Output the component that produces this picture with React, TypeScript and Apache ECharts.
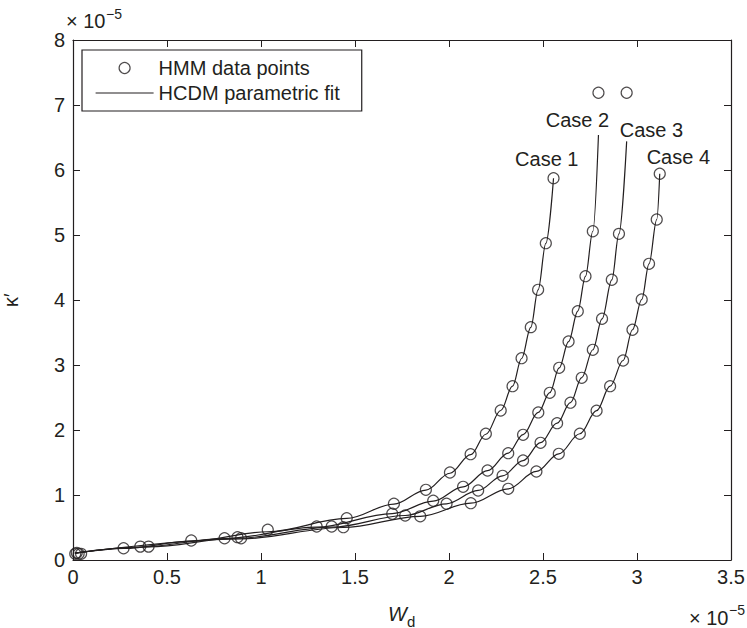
import React, { useEffect, useRef } from 'react';
import * as echarts from 'echarts';

const INK = '#231f20';
const FONT = '"Liberation Sans", Arial, Helvetica, sans-serif';

// Axis ranges (values in units of 10^-5)
const X_MIN = 0;
const X_MAX = 3.5;
const X_STEP = 0.5;
const Y_MIN = 0;
const Y_MAX = 8;
const Y_STEP = 1;

const legendNames = ['HMM data points', 'HCDM parametric fit'];
const caseNames = ['Case 1', 'Case 2', 'Case 3', 'Case 4'];

// HMM data points [W_d, kappa'] (×10^-5)
const hmmCase1 = [
  [0.012, 0.095], [0.269, 0.181], [0.629, 0.300], [1.036, 0.465], [1.456, 0.643],
  [1.707, 0.865], [1.877, 1.080], [2.005, 1.346], [2.115, 1.628], [2.196, 1.942],
  [2.275, 2.300], [2.338, 2.674], [2.386, 3.105], [2.435, 3.582], [2.474, 4.157],
  [2.515, 4.874], [2.556, 5.874],
];
const hmmCase2 = [
  [0.030, 0.095], [0.358, 0.206], [0.806, 0.335], [1.296, 0.515], [1.698, 0.711],
  [1.916, 0.911], [2.075, 1.126], [2.205, 1.377], [2.315, 1.643], [2.394, 1.926],
  [2.475, 2.270], [2.536, 2.572], [2.586, 2.957], [2.636, 3.362], [2.685, 3.828],
  [2.726, 4.366], [2.765, 5.058], [2.795, 7.188],
];
const hmmCase3 = [
  [0.043, 0.095], [0.402, 0.206], [0.875, 0.351], [1.376, 0.515], [1.767, 0.685],
  [1.987, 0.865], [2.155, 1.069], [2.285, 1.295], [2.394, 1.531], [2.487, 1.803],
  [2.575, 2.105], [2.646, 2.420], [2.706, 2.803], [2.765, 3.234], [2.814, 3.711],
  [2.866, 4.311], [2.904, 5.018], [2.945, 7.188],
];
const hmmCase4 = [
  [0.020, 0.110], [0.894, 0.335], [1.438, 0.505], [1.847, 0.672], [2.116, 0.874],
  [2.315, 1.095], [2.465, 1.362], [2.584, 1.634], [2.696, 1.942], [2.785, 2.297],
  [2.857, 2.674], [2.926, 3.069], [2.976, 3.542], [3.025, 4.008], [3.064, 4.557],
  [3.105, 5.238], [3.121, 5.942],
];

// HCDM parametric fit curves
const fitCase1 = [
  [0.010, 0.105], [0.269, 0.178], [0.629, 0.290], [1.036, 0.435], [1.456, 0.640],
  [1.707, 0.860], [1.877, 1.075], [2.005, 1.335], [2.115, 1.620], [2.196, 1.935],
  [2.275, 2.300], [2.338, 2.675], [2.386, 3.100], [2.435, 3.580], [2.474, 4.155],
  [2.515, 4.870], [2.556, 5.874],
];
const fitCase2 = [
  [0.010, 0.105], [0.358, 0.200], [0.806, 0.330], [1.296, 0.505], [1.698, 0.715],
  [1.916, 0.905], [2.075, 1.125], [2.205, 1.375], [2.315, 1.645], [2.394, 1.930],
  [2.475, 2.270], [2.536, 2.575], [2.586, 2.955], [2.636, 3.360], [2.685, 3.830],
  [2.726, 4.365], [2.765, 5.058], [2.795, 6.540],
];
const fitCase3 = [
  [0.010, 0.105], [0.402, 0.200], [0.875, 0.335], [1.376, 0.505], [1.767, 0.685],
  [1.987, 0.865], [2.155, 1.070], [2.285, 1.295], [2.394, 1.530], [2.487, 1.805],
  [2.575, 2.105], [2.646, 2.420], [2.706, 2.805], [2.765, 3.235], [2.814, 3.710],
  [2.866, 4.310], [2.904, 5.018], [2.945, 6.440],
];
const fitCase4 = [
  [0.010, 0.105], [0.894, 0.325], [1.438, 0.500], [1.847, 0.672], [2.116, 0.874],
  [2.315, 1.095], [2.465, 1.362], [2.584, 1.634], [2.696, 1.942], [2.785, 2.297],
  [2.857, 2.674], [2.926, 3.069], [2.976, 3.542], [3.025, 4.008], [3.064, 4.557],
  [3.105, 5.238], [3.121, 5.942],
];

// Case label anchor positions (data coordinates, ×10^-5)
const caseLabelX = [2.520, 2.683, 3.077, 3.220];
const caseLabelY = [6.172, 6.762, 6.618, 6.197];

const hmmAll = [hmmCase1, hmmCase2, hmmCase3, hmmCase4];
const fitAll = [fitCase1, fitCase2, fitCase3, fitCase4];

export default function App() {
  const ref = useRef<HTMLDivElement>(null);

  useEffect(() => {
    if (!ref.current) return;
    const chart = echarts.init(ref.current, undefined, { renderer: 'svg' });

    const axisCommon = {
      axisLine: { show: true, onZero: false, lineStyle: { color: INK, width: 1.2 } },
      axisTick: { show: true, inside: true, length: 7, lineStyle: { color: INK, width: 1 } },
      splitLine: { show: false },
    };

    const series: any[] = [];
    fitAll.forEach((fit) => {
      series.push({
        type: 'line',
        name: legendNames[1],
        data: fit,
        symbol: 'none',
        smooth: 0.35,
        smoothMonotone: 'x',
        lineStyle: { color: INK, width: 1.2 },
        itemStyle: { color: INK },
        z: 2,
        silent: true,
      });
    });
    hmmAll.forEach((pts) => {
      series.push({
        type: 'scatter',
        name: legendNames[0],
        data: pts,
        symbol: 'circle',
        symbolSize: 11,
        itemStyle: { color: 'rgba(255,255,255,0)', borderColor: INK, borderWidth: 1.2 },
        z: 3,
        silent: true,
      });
    });
    series.push({
      type: 'scatter',
      name: 'case labels',
      data: caseNames.map((n, i) => ({ name: n, value: [caseLabelX[i], caseLabelY[i]] })),
      symbolSize: 0,
      itemStyle: { color: INK },
      label: {
        show: true,
        position: [0, 0],
        align: 'center',
        verticalAlign: 'middle',
        formatter: '{b}',
        fontSize: 20,
        fontFamily: FONT,
        color: INK,
        opacity: 1,
        textBorderWidth: 0,
      },
      z: 4,
      silent: true,
    });

    chart.setOption({
      animation: false,
      backgroundColor: '#ffffff',
      textStyle: { fontFamily: FONT, color: INK },
      grid: { left: 73, right: 16, top: 40, bottom: 68, containLabel: false, outerBoundsMode: 'none' },
      legend: {
        data: [
          { name: legendNames[0], itemStyle: { color: 'rgba(255,255,255,0)', borderColor: INK, borderWidth: 1.2 } },
          { name: legendNames[1], itemStyle: { opacity: 0 }, lineStyle: { color: INK, width: 1.2 } },
        ],
        orient: 'vertical',
        left: 82,
        top: 50,
        itemWidth: 58,
        itemHeight: 11,
        itemGap: 5,
        padding: [8, 22, 8, 13],
        borderColor: INK,
        borderWidth: 1.2,
        backgroundColor: '#ffffff',
        textStyle: { fontSize: 20, fontFamily: FONT, color: INK },
        selectedMode: false,
      },
      xAxis: [
        {
          type: 'value',
          position: 'bottom',
          min: X_MIN,
          max: X_MAX,
          interval: X_STEP,
          ...axisCommon,
          axisLabel: { color: INK, fontSize: 20, fontFamily: FONT, margin: 7 },
        },
        {
          type: 'value',
          position: 'top',
          min: X_MIN,
          max: X_MAX,
          interval: X_STEP,
          ...axisCommon,
          axisLabel: { show: false },
        },
      ],
      yAxis: [
        {
          type: 'value',
          position: 'left',
          min: Y_MIN,
          max: Y_MAX,
          interval: Y_STEP,
          name: 'κ′',
          nameLocation: 'middle',
          nameGap: 52,
          nameTextStyle: { fontSize: 20, fontFamily: FONT, color: INK },
          ...axisCommon,
          axisLabel: { color: INK, fontSize: 20, fontFamily: FONT, margin: 8 },
        },
        {
          type: 'value',
          position: 'right',
          min: Y_MIN,
          max: Y_MAX,
          interval: Y_STEP,
          ...axisCommon,
          axisLabel: { show: false },
        },
      ],
      graphic: [
        {
          type: 'text', x: 66, y: 21, silent: true,
          style: { text: '× 10', fontSize: 20, fontFamily: FONT, fill: INK, align: 'left', verticalAlign: 'middle' },
        },
        {
          type: 'text', x: 106, y: 14, silent: true,
          style: { text: '−5', fontSize: 14, fontFamily: FONT, fill: INK, align: 'left', verticalAlign: 'middle' },
        },
        {
          type: 'text', x: 689, y: 618, silent: true,
          style: { text: '× 10', fontSize: 20, fontFamily: FONT, fill: INK, align: 'left', verticalAlign: 'middle' },
        },
        {
          type: 'text', x: 729, y: 610, silent: true,
          style: { text: '−5', fontSize: 14, fontFamily: FONT, fill: INK, align: 'left', verticalAlign: 'middle' },
        },
        {
          type: 'text', x: 388, y: 614, silent: true,
          style: { text: 'W', fontSize: 20, fontStyle: 'italic', fontFamily: FONT, fill: INK, align: 'left', verticalAlign: 'middle' },
        },
        {
          type: 'text', x: 407, y: 621, silent: true,
          style: { text: 'd', fontSize: 15, fontFamily: FONT, fill: INK, align: 'left', verticalAlign: 'middle' },
        },
      ],
      series,
    });

    return () => {
      chart.dispose();
    };
  }, []);

  return (
    <div
      ref={ref}
      style={{ position: 'absolute', left: 0, top: 0, width: 747, height: 628, background: '#fff' }}
    />
  );
}
